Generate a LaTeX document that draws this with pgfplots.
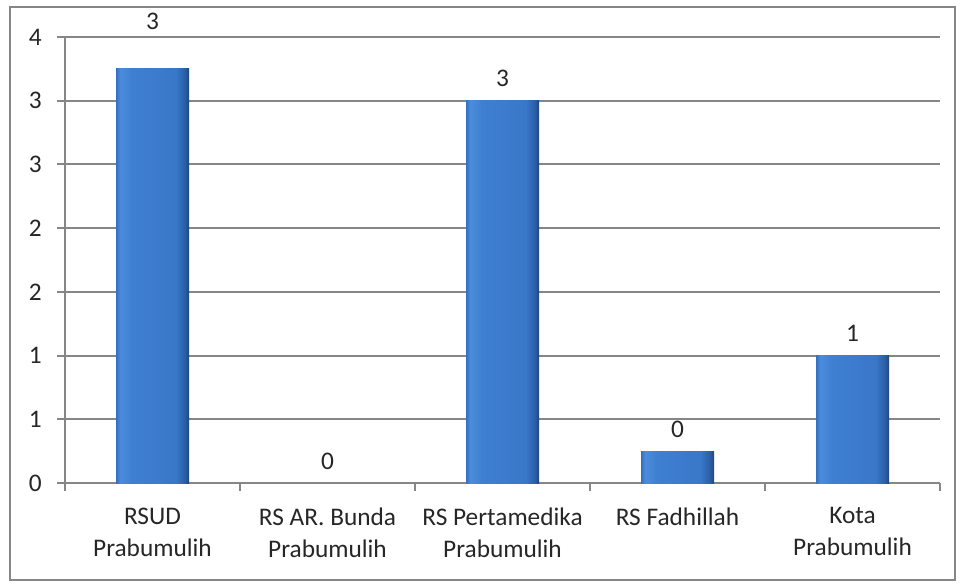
\documentclass[border=0pt]{standalone}
\usepackage{fontspec}
\setmainfont{Carlito}
\usepackage{pgfplots}
\pgfplotsset{compat=1.18}
\definecolor{gridc}{HTML}{868686}
\definecolor{txt}{HTML}{262626}
\definecolor{b1}{HTML}{3570C0}
\definecolor{b2}{HTML}{4C8CDC}
\definecolor{b3}{HTML}{3F7FD2}
\definecolor{b4}{HTML}{3977C8}
\definecolor{b5}{HTML}{2B5FA8}
\definecolor{b6}{HTML}{1F4680}
\pgfdeclarehorizontalshading{barshade}{100bp}{color(0bp)=(b1); color(25bp)=(b1); color(28bp)=(b2); color(36bp)=(b3); color(66bp)=(b4); color(72bp)=(b5); color(75bp)=(b6); color(100bp)=(b6)}
\pgfplotsset{
  lbl/.style={nodes near coords={\pgfmathprintnumber[fixed,precision=0,assume math mode=true]{\pgfplotspointmeta}},
    every node near coord/.append style={font=\fontsize{19}{24}\selectfont, text=txt, anchor=south, inner sep=4pt, yshift=6pt}},
  mybar/.style={ybar, bar width=54.75pt, draw=none, shading=barshade, lbl},
}
\begin{document}
\begin{tikzpicture}
\path[use as bounding box] (-48.75pt,-75pt) rectangle (672.75pt,362.25pt);
\draw[gridc, line width=1.5pt] (-41.25pt,-72.75pt) rectangle (667.5pt,357pt);
\begin{axis}[
  at={(0pt,0pt)}, anchor=south west,
  scale only axis, width=656.25pt, height=334.5pt,
  xmin=-0.5, xmax=4.5, ymin=0, ymax=3.5,
  xtick={-0.5,0.5,1.5,2.5,3.5,4.5},
  x tick label as interval,
  xticklabels={{RSUD\\Prabumulih},{RS AR. Bunda\\Prabumulih},{RS Pertamedika\\Prabumulih},{RS Fadhillah},{Kota\\Prabumulih}},
  ytick={0,0.5,1,1.5,2,2.5,3,3.5},
  yticklabels={0,1,1,2,2,3,3,4},
  ymajorgrids, grid style={gridc, line width=1.5pt},
  axis x line*=bottom, axis y line*=left,
  axis line style={gridc, line width=1.5pt, -},
  tick style={gridc, line width=1.5pt},
  tick align=outside, major tick length=6pt,
  tick label style={font=\fontsize{19}{24}\selectfont, text=txt},
  xticklabel style={align=center, yshift=-9pt},
  yticklabel style={xshift=-8pt},
  clip=false,
]
\addplot[mybar, every node near coord/.append style={yshift=19pt}] coordinates {(0,3.25)};
\addplot[ybar, bar width=54.75pt, draw=none, fill=none, lbl] coordinates {(1,0)};
\addplot[mybar] coordinates {(2,3.0)};
\addplot[mybar] coordinates {(3,0.25)};
\addplot[mybar] coordinates {(4,1.0)};
\end{axis}
\end{tikzpicture}
\end{document}
